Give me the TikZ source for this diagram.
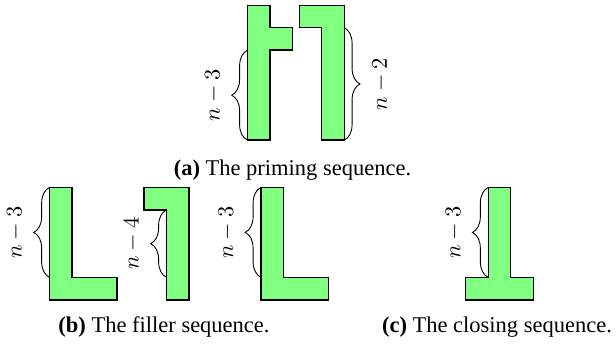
\documentclass[tikz,border=0pt]{standalone}
\usepackage[no-math]{fontspec}
\setmainfont{Liberation Serif}
\usetikzlibrary{decorations.pathreplacing}
\definecolor{tilegreen}{HTML}{80FF80}
\tikzset{
  tile/.style={semithick,fill=tilegreen},
  bracel/.style={decorate,decoration={brace,amplitude=7pt}},
  countl/.style={midway,xshift=-8pt,rotate=90,anchor=south},
  countr/.style={midway,xshift=9pt,rotate=90,anchor=north},
}
\begin{document}
\begin{tikzpicture}[x=10pt,y=10pt]
       \useasboundingbox (0,0) rectangle (27.38,15.33);
       % (a) priming
       \draw[tile] (11,9.1) -- (12,9.1) -- (12,13.1) -- (13,13.1) -- (13,14.1) -- (12,14.1) -- (12,15.1) -- (11,15.1) -- cycle;
       \draw[tile] (14.3,9.1) -- (15.3,9.1) -- (15.3,15.1) -- (13.3,15.1) -- (13.3,14.1) -- (14.3,14.1) -- cycle;
       \draw[bracel] (11,9.1) -- (11,13.1) node[countl] (na) {$n-3$};
       \draw[bracel] (15.3,14.1) -- (15.3,9.1) node[countr] (nb) {$n-2$};
       \node (capa) at (13,7.78) {\textbf{(a)} The priming sequence.};
       % (b) filler
       \draw[tile] (2.2,2) -- (5.2,2) -- (5.2,3) -- (3.2,3) -- (3.2,7) -- (2.2,7) -- cycle;
       \draw[tile] (7.4,2) -- (8.4,2) -- (8.4,7) -- (6.4,7) -- (6.4,6) -- (7.4,6) -- cycle;
       \draw[tile] (11.6,2) -- (14.6,2) -- (14.6,3) -- (12.6,3) -- (12.6,7) -- (11.6,7) -- cycle;
       \draw[bracel] (2.2,3) -- (2.2,7) node[countl] (nc) {$n-3$};
       \draw[bracel] (7.4,3) -- (7.4,6) node[countl] (nd) {$n-4$};
       \draw[bracel] (11.6,3) -- (11.6,7) node[countl] (ne) {$n-3$};
       \node (capb) at (7.29,0.8) {\textbf{(b)} The filler sequence.};
       % (c) closing
       \draw[tile] (20.7,2) -- (23.7,2) -- (23.7,3) -- (22.7,3) -- (22.7,7) -- (21.7,7) -- (21.7,3) -- (20.7,3) -- cycle;
       \draw[bracel] (21.7,3) -- (21.7,7) node[countl] (nf) {$n-3$};
       \node (capc) at (22.09,0.8) {\textbf{(c)} The closing sequence.};
     \end{tikzpicture}
\end{document}
